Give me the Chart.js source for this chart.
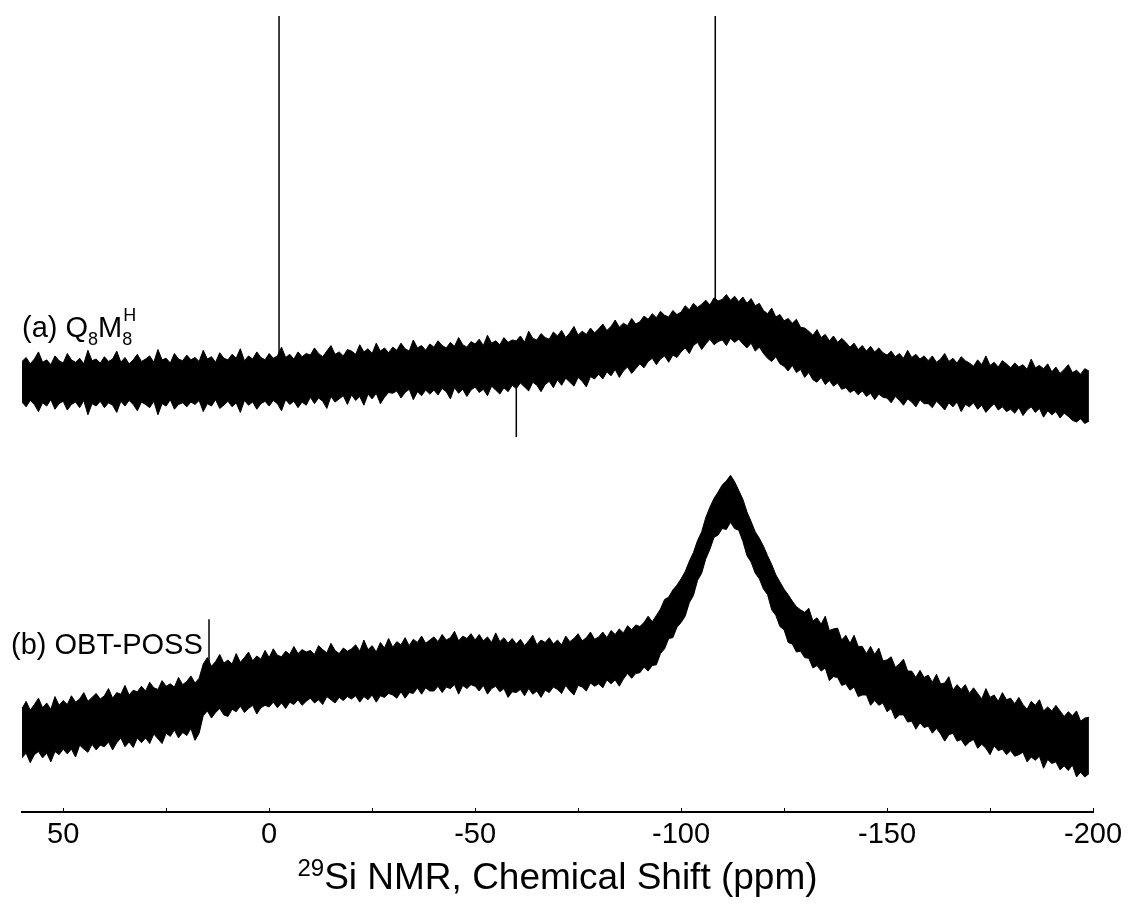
<!DOCTYPE html>
<html><head><meta charset="utf-8">
<script src="https://cdn.jsdelivr.net/npm/chart.js@4.4.0/dist/chart.umd.min.js"></script>
<style>html,body{margin:0;padding:0;background:#fff;}canvas{display:block;}</style>
</head><body>
<canvas id="c" width="1128" height="908"></canvas>
<script>
// spectral axis sampling (ppm), one sample per ppm from 60 down to -199
const PPM_START = 60, PPM_STEP = -1;
const tickValues = [50, 25, 0, -25, -50, -75, -100, -125, -150, -175, -200];
const labelValues = [50, 0, -50, -100, -150, -200];

// (a) Q8M8H : noise-band upper / lower envelope (intensity, arbitrary units)
const aUpper = [
56.6,57.1,56.3,56.9,57.8,56.5,56.8,56.2,57.3,56.7,
56.4,57.6,56.8,56.5,57.0,56.3,58.0,56.7,56.9,56.4,
57.2,56.6,56.9,57.9,56.5,57.1,56.3,56.8,57.5,56.6,
56.9,57.3,56.5,58.1,56.8,57.0,56.4,57.6,56.9,56.7,
57.4,56.8,57.1,56.6,58.0,56.9,57.2,56.5,57.7,57.0,
56.8,57.5,57.0,58.2,56.7,57.3,56.9,57.8,57.1,56.8,
57.6,57.0,57.3,58.4,57.1,57.5,56.9,57.8,57.2,57.6,
57.4,58.3,57.6,57.2,57.9,58.6,57.5,57.8,57.3,58.1,
57.9,57.5,58.7,57.8,58.2,57.6,58.9,57.9,58.3,57.7,
58.4,58.0,58.9,58.2,57.9,59.3,58.3,58.6,58.0,58.8,
58.4,59.2,58.6,58.3,59.0,58.5,59.6,58.7,58.4,59.1,
58.8,59.4,58.6,59.9,58.9,59.2,58.7,59.6,59.0,59.3,
59.2,59.8,59.0,60.4,59.5,59.3,60.1,59.6,59.4,60.3,
59.8,60.5,59.6,60.2,61.0,59.9,60.4,60.0,60.8,60.2,
60.7,61.3,60.5,61.0,61.8,60.9,61.4,61.1,62.0,61.3,
61.6,62.3,61.9,62.6,62.1,62.9,62.4,62.2,63.0,62.5,
62.8,63.6,63.1,63.9,63.4,63.8,64.3,63.7,64.6,64.2,
64.4,65.0,64.3,64.8,64.1,64.7,63.9,64.5,63.6,63.9,
63.0,62.6,63.3,62.2,62.5,61.7,62.0,61.4,61.9,60.9,
60.8,60.4,59.9,60.6,59.6,60.0,59.2,59.8,59.0,59.5,
59.0,58.4,58.9,58.1,58.6,57.9,58.5,57.8,58.3,57.7,
57.4,57.9,57.2,57.6,57.0,58.0,57.1,57.5,56.9,57.3,
56.7,57.3,56.5,56.9,57.6,56.6,57.0,56.4,57.2,56.7,
56.4,56.0,56.8,56.2,57.3,56.1,56.5,55.9,56.7,56.3,
55.8,56.4,55.9,56.2,55.6,56.9,55.8,56.1,55.7,56.3,
55.3,55.9,55.1,55.6,56.2,55.2,55.5,55.0,55.7,55.4];
const aLower = [
51.5,50.9,51.7,51.2,50.3,51.4,51.0,51.8,50.6,51.3,
51.6,50.5,51.2,51.5,50.8,51.7,49.9,51.3,51.0,51.6,
50.8,51.4,51.1,50.2,51.6,51.0,51.7,51.2,50.4,51.5,
51.2,50.8,51.6,49.9,51.3,51.0,51.8,50.6,51.2,51.4,
50.9,51.5,51.2,51.7,50.3,51.3,51.0,51.8,50.7,51.1,
51.6,50.9,51.4,50.2,51.7,51.1,51.5,50.6,51.3,51.6,
51.0,51.7,51.3,50.4,51.8,51.2,51.6,50.8,51.5,51.1,
52.1,51.3,52.0,51.6,50.7,52.2,51.5,51.9,52.3,51.2,
52.4,51.7,52.2,51.1,52.5,51.9,52.6,51.3,52.1,52.7,
52.6,52.9,52.0,52.7,53.1,51.8,52.8,52.3,53.0,52.5,
53.0,52.4,53.2,52.8,51.9,53.3,52.6,53.1,52.2,53.0,
53.4,52.7,53.1,52.3,53.5,53.0,52.5,53.3,52.8,53.6,
53.2,53.9,53.4,52.9,54.0,53.6,52.8,53.7,54.1,53.3,
54.3,53.6,54.5,54.0,53.5,54.6,54.1,53.4,54.7,54.4,
55.0,54.4,55.3,54.8,55.6,54.6,55.4,55.9,55.1,55.7,
56.3,55.8,56.6,57.0,56.2,56.9,57.3,56.5,57.4,57.1,
57.8,58.3,57.6,58.6,59.0,58.1,58.8,59.4,58.7,59.1,
59.3,58.6,59.5,59.0,59.4,58.8,58.3,58.9,57.9,58.4,
57.6,57.0,56.6,57.2,56.3,56.0,55.4,56.1,55.2,55.6,
54.6,55.2,54.3,54.0,54.6,53.7,54.2,53.5,53.9,53.1,
53.3,52.7,53.0,52.4,52.9,52.2,52.6,51.8,52.5,52.1,
52.0,51.4,52.2,51.7,51.1,51.9,51.5,50.9,51.8,51.3,
51.3,50.8,51.6,51.1,50.5,51.4,50.9,51.5,50.3,51.2,
50.9,51.4,50.6,51.1,50.2,50.8,51.3,50.5,50.9,50.3,
50.6,50.1,50.8,49.8,50.5,50.9,50.2,50.7,49.6,50.4,
49.9,50.3,49.5,50.1,49.7,49.2,49.0,49.4,48.8,49.1];

// (b) OBT-POSS : noise-band upper / lower envelope
const bUpper = [
13.0,13.9,12.8,13.5,14.3,13.1,13.7,12.9,14.5,13.4,
14.0,13.5,14.6,13.8,14.2,15.0,13.9,14.4,14.9,14.2,
14.6,15.5,14.3,15.0,14.8,15.9,14.7,15.3,15.1,15.8,
15.2,16.3,15.6,15.4,16.5,15.8,16.1,15.7,16.9,16.0,
16.4,17.1,16.2,16.8,18.6,19.4,18.3,18.9,19.8,18.7,
19.1,18.6,19.9,18.8,19.4,20.1,19.0,19.6,19.2,20.3,
19.4,20.5,19.7,19.5,20.2,19.8,20.8,19.9,20.4,20.1,
20.3,19.8,20.9,20.4,20.0,21.2,20.3,19.9,20.6,20.2,
20.5,21.0,20.2,21.6,20.4,20.9,20.1,21.3,20.6,21.8,
20.7,21.4,21.0,21.9,20.9,21.7,21.3,22.1,21.2,21.6,
22.0,21.4,22.3,21.6,21.9,22.7,21.5,22.1,21.8,22.4,
21.6,22.3,21.5,22.0,21.3,22.5,21.4,21.9,21.2,21.8,
21.1,21.7,20.9,21.5,22.2,21.0,21.6,21.3,21.9,21.1,
21.6,21.0,22.1,21.4,21.8,22.4,21.5,21.9,22.6,21.7,
22.0,22.6,21.9,22.8,22.3,23.0,22.5,23.4,22.9,23.5,
23.3,23.8,24.6,23.9,24.7,25.5,26.7,27.0,27.9,28.5,
29.3,30.2,31.5,32.6,34.1,35.2,37.0,38.3,39.4,40.2,
41.1,41.6,42.3,41.5,40.4,39.3,37.7,36.5,35.2,34.4,
33.4,32.2,31.1,29.8,28.9,28.0,27.3,26.5,25.8,25.4,
25.1,25.6,24.0,24.4,23.6,24.6,22.8,23.0,23.1,21.6,
22.2,21.2,22.2,20.8,20.8,19.9,20.8,19.8,20.6,19.0,
19.1,19.5,18.2,18.6,19.2,17.7,17.7,16.9,17.8,16.9,
17.2,16.3,17.3,16.1,16.2,17.0,15.3,16.0,15.4,16.0,
14.9,15.6,14.9,14.2,15.5,14.4,14.7,13.9,15.0,14.1,
14.3,13.6,14.4,13.5,12.9,13.9,13.4,14.1,12.7,13.2,
12.7,13.4,12.7,12.0,12.6,12.1,12.7,11.4,11.8,11.9];
const bLower = [
6.8,7.4,6.2,7.2,7.6,6.8,7.4,6.3,7.6,7.2,
7.9,7.3,7.9,6.9,8.4,7.9,7.5,8.5,7.8,8.4,
8.2,8.8,7.8,8.7,9.3,8.2,8.8,8.1,9.3,8.7,
9.3,8.6,9.8,9.2,8.6,9.9,9.5,10.3,9.3,10.0,
9.6,10.5,9.0,9.9,12.1,12.7,11.8,12.5,13.0,12.2,
12.0,12.9,12.6,13.3,12.5,13.0,13.4,12.3,13.1,13.4,
13.2,13.8,13.1,13.7,13.0,13.8,13.5,14.1,13.4,13.9,
14.3,13.7,14.1,13.5,14.5,14.1,13.7,14.4,14.0,14.5,
14.2,14.6,13.8,14.5,14.1,14.7,13.8,14.6,14.4,14.9,
14.7,14.3,15.1,14.3,15.0,14.9,15.6,14.8,15.6,15.2,
15.2,15.8,15.0,15.7,15.5,16.0,14.8,15.9,15.5,16.0,
15.8,15.2,15.9,14.8,15.5,15.8,15.1,15.5,14.4,15.1,
15.0,15.4,14.6,15.5,14.8,15.2,14.4,15.3,15.0,15.7,
15.4,14.9,15.9,15.2,14.7,15.9,15.7,15.2,16.2,15.8,
16.1,15.6,16.6,16.1,16.6,15.8,16.7,17.4,16.8,17.4,
17.5,18.2,17.7,18.4,18.5,19.9,20.5,21.8,21.9,23.2,
23.8,24.6,26.3,27.2,29.1,30.0,31.8,33.0,34.5,34.8,
35.6,35.5,36.4,35.6,35.4,34.0,32.2,31.4,30.0,29.3,
28.0,27.3,25.4,24.7,23.3,22.9,21.3,21.1,20.1,20.2,
19.4,19.3,18.1,18.4,17.7,18.1,16.5,17.0,16.9,15.9,
16.1,15.3,15.7,14.5,14.7,14.7,13.4,14.0,13.4,13.7,
12.6,13.0,11.7,12.2,12.2,11.3,11.4,10.4,11.2,10.6,
10.8,9.9,10.5,9.8,8.9,9.7,9.9,8.9,9.1,8.3,
8.8,9.1,8.0,8.5,8.0,7.2,8.3,7.7,7.9,7.2,
7.7,7.0,7.2,7.5,6.3,6.9,6.5,7.0,5.5,6.6,
6.1,6.3,5.3,5.8,5.2,5.9,4.4,5.0,4.4,4.8];

// sharp lines (ppm, from intensity, to intensity)
const aSpikePpm  = [-2.4, -108.3, -60.0];
const aSpikeFrom = [54.6, 61.0, 56.0];
const aSpikeTo   = [100, 100, 47.1];
const bSpikePpm  = [14.6];
const bSpikeFrom = [13.0];
const bSpikeTo   = [24.2];

const FONT = '"Liberation Sans", Arial, sans-serif';
const xs = aUpper.map((_, i) => PPM_START + i * PPM_STEP);
const pts = arr => arr.map((y, i) => ({x: xs[i], y}));
const band = (up, lo) => [
  {data: pts(up), borderColor: '#000', borderWidth: 1, fill: false},
  {data: pts(lo), borderColor: '#000', borderWidth: 1, fill: '-1', backgroundColor: '#000'}
];
const spikes = (p, f, t) => p.map((v, i) => ({
  data: [{x: v, y: f[i]}, {x: v, y: t[i]}], borderColor: '#000', borderWidth: 1.5, fill: false
}));

const annot = {
  id: 'annot',
  afterDraw(chart) {
    const {ctx, chartArea, scales: {x}} = chart;
    ctx.save();
    ctx.fillStyle = '#000'; ctx.strokeStyle = '#000'; ctx.lineWidth = 1;
    tickValues.forEach(v => {
      const px = Math.round(x.getPixelForValue(v)) + 0.5;
      ctx.beginPath(); ctx.moveTo(px, chartArea.bottom); ctx.lineTo(px, chartArea.bottom - 4); ctx.stroke();
    });
    ctx.textAlign = 'left'; ctx.textBaseline = 'alphabetic';
    let cx = 22; const base = 337;
    const run = (t, size, dy) => { ctx.font = size + 'px ' + FONT; ctx.fillText(t, cx, base + dy); cx += ctx.measureText(t).width; };
    run('(a) Q', 29, 0); run('8', 18, 8); run('M', 29, 0);
    const sx = cx; run('8', 18, 8); cx = sx + 1; run('H', 18, -16);
    ctx.font = '29px ' + FONT; ctx.fillText('(b) OBT-POSS', 11, 654);
    ctx.font = '24px ' + FONT; const w1 = ctx.measureText('29').width;
    ctx.font = '37px ' + FONT; const main = 'Si NMR, Chemical Shift (ppm)'; const w2 = ctx.measureText(main).width;
    const start = (chartArea.left + chartArea.right) / 2 - (w1 + w2) / 2;
    ctx.font = '24px ' + FONT; ctx.fillText('29', start, 876);
    ctx.font = '37px ' + FONT; ctx.fillText(main, start + w1, 889);
    ctx.restore();
  }
};

new Chart(document.getElementById('c'), {
  type: 'line',
  data: {datasets: [...band(aUpper, aLower), ...band(bUpper, bLower),
                    ...spikes(aSpikePpm, aSpikeFrom, aSpikeTo), ...spikes(bSpikePpm, bSpikeFrom, bSpikeTo)]},
  options: {
    responsive: false, animation: false,
    layout: {padding: {left: 22, right: 35, top: 16, bottom: 0}},
    plugins: {legend: {display: false}, tooltip: {enabled: false}},
    elements: {point: {radius: 0}, line: {tension: 0}},
    scales: {
      x: {type: 'linear', reverse: true, min: -200, max: 60,
          afterBuildTicks: s => { s.ticks = tickValues.map(v => ({value: v})); },
          afterFit: s => { s.height = 96; },
          grid: {display: false},
          border: {display: true, color: '#000', width: 2},
          ticks: {autoSkip: false, maxRotation: 0, padding: 0, color: '#000',
                  font: {family: FONT, size: 29, lineHeight: 1},
                  callback: v => labelValues.includes(v) ? String(v) : ''}},
      y: {display: false, min: 0, max: 100}
    }
  },
  plugins: [annot]
});
</script>
</body></html>
